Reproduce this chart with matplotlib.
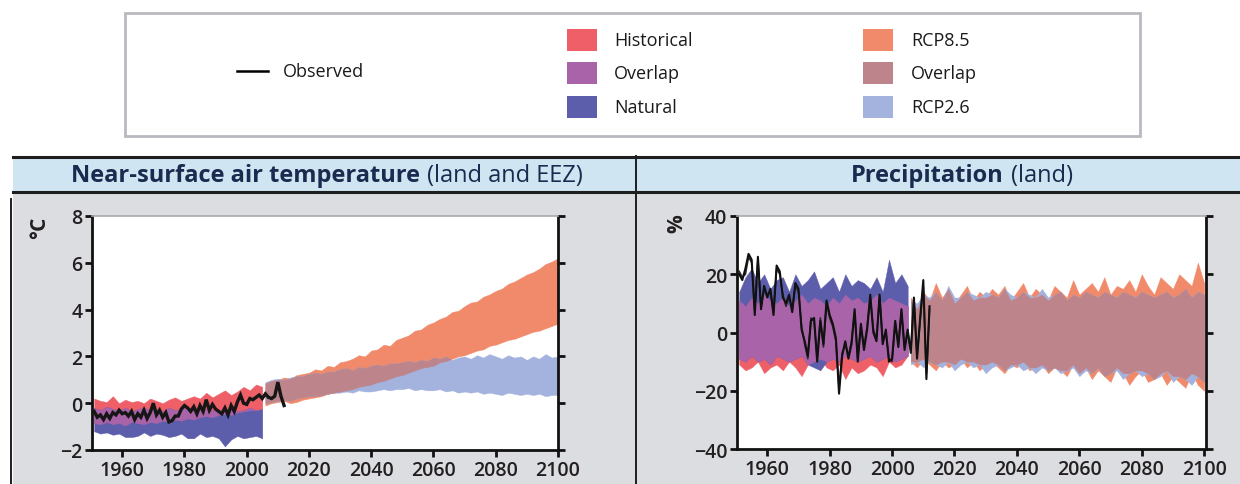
import numpy as np
import matplotlib
matplotlib.use('Agg')
import matplotlib.pyplot as plt
from matplotlib.patches import Rectangle
from matplotlib.lines import Line2D

plt.rcParams['font.family'] = ['Open Sans', 'DejaVu Sans']

# ---------------- data ----------------
hist_years = np.arange(1951, 2006, 2)      # model ranges, historical / natural
proj_years = np.arange(2006, 2101, 2)      # model ranges, RCP scenarios
obs_years = np.arange(1951, 2013)          # observations

# Near-surface air temperature (deg C)
t_hist_hi = [0.2, 0.1, 0.05, 0.3, 0.0, 0.15, 0.05, 0.1, 0.0, 0.2, 0.1, 0.0, 0.15, 0.25,
             0.1, 0.2, 0.3, 0.2, 0.45, 0.25, 0.4, 0.55, 0.35, 0.5, 0.7, 0.55, 0.8, 0.7]
t_hist_lo = [-0.85, -0.9, -0.8, -0.9, -0.85, -0.95, -0.8, -0.85, -0.9, -0.8, -0.85, -0.75, -0.8, -0.7,
             -0.75, -0.65, -0.7, -0.6, -0.55, -0.6, -0.5, -0.45, -0.5, -0.4, -0.35, -0.3, -0.3, -0.25]
t_nat_hi = [-0.2, -0.3, -0.15, -0.25, -0.3, -0.2, -0.35, -0.25, -0.2, -0.3, -0.25, -0.35, -0.2, -0.3,
            -0.25, -0.2, -0.3, -0.35, -0.25, -0.3, -0.4, -0.3, -0.25, -0.35, -0.3, -0.2, -0.3, -0.25]
t_nat_lo = [-1.2, -1.3, -1.25, -1.35, -1.3, -1.45, -1.45, -1.4, -1.25, -1.4, -1.3, -1.35, -1.45, -1.4,
            -1.3, -1.5, -1.5, -1.3, -1.45, -1.4, -1.5, -1.85, -1.55, -1.4, -1.5, -1.45, -1.4, -1.5]
t_r85_hi = [0.85, 0.95, 1.0, 1.1, 1.05, 1.2, 1.25, 1.3, 1.45, 1.4, 1.6, 1.55, 1.75, 1.8, 1.9, 2.05,
            2.0, 2.25, 2.3, 2.5, 2.45, 2.7, 2.8, 2.9, 3.1, 3.15, 3.35, 3.45, 3.6, 3.7, 3.9, 3.95,
            4.15, 4.3, 4.35, 4.55, 4.65, 4.8, 4.9, 5.1, 5.2, 5.35, 5.5, 5.6, 5.75, 5.95, 6.05, 6.2]
t_r85_lo = [-0.1, 0.0, 0.05, 0.1, 0.0, 0.05, 0.15, 0.2, 0.25, 0.3, 0.4, 0.45, 0.5, 0.55, 0.6, 0.7,
            0.75, 0.8, 0.9, 0.95, 1.05, 1.15, 1.2, 1.3, 1.4, 1.5, 1.55, 1.6, 1.75, 1.8, 1.9, 2.0,
            2.05, 2.15, 2.25, 2.3, 2.45, 2.5, 2.6, 2.7, 2.75, 2.85, 2.95, 3.05, 3.1, 3.2, 3.3, 3.4]
t_r26_hi = [0.9, 1.0, 1.05, 1.0, 1.1, 1.15, 1.15, 1.25, 1.3, 1.25, 1.35, 1.35, 1.45, 1.5, 1.4, 1.55,
            1.5, 1.6, 1.65, 1.6, 1.7, 1.7, 1.75, 1.8, 1.75, 1.85, 1.8, 1.95, 1.9, 2.0, 1.85, 1.95,
            2.0, 1.9, 2.05, 1.95, 2.1, 2.0, 1.9, 2.05, 1.95, 2.0, 1.85, 2.0, 1.9, 2.1, 1.95, 2.0]
t_r26_lo = [0.0, 0.05, 0.1, 0.15, 0.1, 0.2, 0.25, 0.3, 0.3, 0.35, 0.4, 0.45, 0.45, 0.5, 0.45, 0.55,
            0.5, 0.5, 0.55, 0.6, 0.55, 0.6, 0.6, 0.65, 0.55, 0.6, 0.55, 0.55, 0.6, 0.5, 0.55, 0.45,
            0.5, 0.45, 0.5, 0.4, 0.45, 0.4, 0.35, 0.45, 0.4, 0.35, 0.4, 0.35, 0.4, 0.3, 0.35, 0.35]
t_obs = [-0.35, -0.6, -0.5, -0.7, -0.45, -0.65, -0.4, -0.5, -0.3, -0.45, -0.4, -0.55, -0.35, -0.7,
         -0.45, -0.6, -0.3, -0.65, -0.4, 0.0, -0.5, -0.3, -0.6, -0.4, -0.8, -0.75, -0.55, -0.55,
         -0.25, -0.1, -0.2, -0.35, -0.15, -0.45, -0.1, -0.35, 0.15, -0.3, -0.05, -0.25, -0.35, -0.45,
         -0.2, -0.5, -0.1, -0.35, 0.05, 0.35, 0.0, -0.05, 0.2, 0.15, 0.25, 0.35, 0.2, 0.4, 0.25, 0.2,
         0.3, 0.9, 0.3, -0.1]

# Precipitation (%)
p_hist_hi = [11, 9, 12, 10, 13, 11, 10, 12, 9, 11, 13, 10, 12, 11, 9, 12, 10, 13, 11, 12, 10, 11,
             13, 10, 12, 11, 10, 9]
p_hist_lo = [-11, -13, -12, -10, -14, -12, -11, -13, -10, -12, -15, -11, -10, -9, -12, -13, -11, -16,
             -12, -14, -13, -11, -12, -15, -10, -12, -11, -8]
p_nat_hi = [14, 19, 22, 17, 20, 15, 18, 19, 14, 20, 16, 18, 21, 15, 17, 19, 14, 20, 16, 18, 17, 15,
            19, 14, 25, 17, 20, 16]
p_nat_lo = [-9, -10, -8, -10, -9, -11, -8, -9, -10, -9, -8, -11, -12, -13, -10, -9, -10, -8, -9, -10,
            -9, -8, -10, -9, -8, -10, -9, -8]
p_r85_hi = [12, 8, 14, 11, 17, 12, 15, 10, 13, 16, 11, 14, 12, 15, 13, 16, 11, 14, 17, 12, 15, 13,
            11, 16, 14, 12, 18, 13, 15, 17, 14, 19, 13, 16, 15, 18, 14, 20, 16, 13, 19, 17, 15, 20,
            18, 16, 24, 17]
p_r85_lo = [-10, -12, -9, -11, -13, -10, -12, -11, -9, -12, -10, -13, -11, -10, -12, -14, -11, -12,
            -10, -13, -12, -11, -14, -12, -13, -15, -11, -14, -12, -16, -13, -15, -17, -12, -14, -18,
            -15, -13, -17, -16, -14, -18, -15, -17, -19, -14, -18, -20]
p_r26_hi = [11, 10, 13, 12, 14, 11, 16, 12, 12, 14, 13, 12, 14, 13, 12, 15, 13, 12, 14, 13, 12, 15,
            12, 13, 14, 11, 13, 12, 14, 13, 12, 14, 13, 12, 14, 13, 12, 14, 13, 12, 13, 14, 12, 13,
            15, 12, 14, 13]
p_r26_lo = [-11, -10, -12, -10, -11, -12, -10, -13, -11, -10, -12, -11, -14, -12, -11, -13, -12, -11,
            -13, -12, -14, -12, -13, -12, -14, -13, -12, -15, -13, -14, -12, -15, -14, -13, -16, -14,
            -13, -15, -14, -16, -15, -13, -17, -15, -16, -18, -15, -17]
p_obs_a = [20, 18, 22, 27, 25, 6, 26, 8, 16, 12, 15, 6, 23, 21, 12, 10, 13, 7, 17, 15, 1, -3, -8, 4,
           5, -10, 4, -4, 11, 6, 3, -2, -21, -8, -3, -9, -4, 8, -10, 3, -6, 1, 13, 0, -3, 13, -4, 1,
           -10, -9, 4, -5, 8, -6, 1, -7, 12, -9, 5, 18, -16, 9]
p_obs_b = [21, 19, 20, 26, 24, 8, 25, 9, 15, 13, 14, 7, 22, 20, 13, 9, 12, 8, 16, 14, 2, -4, -9, 5,
           4, -9, 5, -5, 10, 5, 2, -3, -19, -7, -4, -8, -3, 7, -9, 2, -5, 2, 12, 1, -2, 12, -3, 0,
           -9, -10, 3, -4, 7, -5, 0, -6, 11, -8, 4, 16, -14, 8]

panel_titles = [("Near-surface air temperature", "(land and EEZ)"), ("Precipitation", "(land)")]
units = ["°C", "%"]
t_ticks = [-2, 0, 2, 4, 6, 8]
p_ticks = [-40, -20, 0, 20, 40]
x_ticks = [1960, 1980, 2000, 2020, 2040, 2060, 2080, 2100]

colors = {
    "Historical": "#ee5f68",
    "Overlap_hn": "#a963a8",
    "Natural": "#5d5eab",
    "RCP8.5": "#f08a6a",
    "Overlap_rcp": "#bd858b",
    "RCP2.6": "#a4b2de",
}

# ---------------- figure ----------------
W, H = 1240, 485
fig = plt.figure(figsize=(W / 100, H / 100), dpi=100)
fig.patch.set_facecolor('white')


def fx(px):
    return px / W


def fy(py):
    return 1 - py / H


dark = '#1e1e1e'
fig.patches.append(Rectangle((fx(13), 0), fx(W - 13), fy(194), transform=fig.transFigure,
                             facecolor='#dcdde1', edgecolor='none', zorder=-5))
fig.patches.append(Rectangle((fx(13), fy(193)), fx(W - 13), (193 - 157) / H, transform=fig.transFigure,
                             facecolor='#cfe5f1', edgecolor='none', zorder=-5))
fig.add_artist(Line2D([fx(13), 1], [fy(157.5)] * 2, color=dark, lw=2.2, zorder=-4))
fig.add_artist(Line2D([fx(13), 1], [fy(193)] * 2, color=dark, lw=2.2, zorder=-4))
fig.add_artist(Line2D([fx(636)] * 2, [0, fy(157)], color=dark, lw=1.4, zorder=-4))
fig.add_artist(Line2D([fx(11)] * 2, [0, fy(200)], color=dark, lw=1.4, zorder=-4))

# legend box
fig.patches.append(Rectangle((fx(125), fy(137)), fx(1015), (137 - 14) / H, transform=fig.transFigure,
                             facecolor='white', edgecolor='#b9b9c0', lw=2.0, zorder=-5))
leg_fs = 13
fig.add_artist(Line2D([fx(237), fx(268)], [fy(72)] * 2, color='black', lw=1.8))
fig.text(fx(283), fy(72), "Observed", fontsize=leg_fs, va='center', ha='left', color='#1a1a1a')
legend_cols = [
    (567, 614, [("Historical", colors["Historical"]), ("Overlap", colors["Overlap_hn"]),
                ("Natural", colors["Natural"])]),
    (863, 911, [("RCP8.5", colors["RCP8.5"]), ("Overlap", colors["Overlap_rcp"]),
                ("RCP2.6", colors["RCP2.6"])]),
]
row_y = [41, 74, 108]
for px, tx, items in legend_cols:
    for (lab, col), yy in zip(items, row_y):
        fig.patches.append(Rectangle((fx(px), fy(yy + 11)), fx(30), 22 / H, transform=fig.transFigure,
                                     facecolor=col, edgecolor='none', zorder=2))
        fig.text(fx(tx), fy(yy), lab, fontsize=leg_fs, va='center', ha='left', color='#1a1a1a')

# headers
renderer = fig.canvas.get_renderer()
title_col = '#1b2a4f'
for (bold, normal), cx in zip(panel_titles, [327, 962]):
    t1 = fig.text(0, fy(176), bold, fontsize=17, fontweight='bold', color=title_col, va='center')
    t2 = fig.text(0, fy(176), normal, fontsize=17, color=title_col, va='center')
    w1 = t1.get_window_extent(renderer).width
    w2 = t2.get_window_extent(renderer).width
    gap = 7
    start = cx - (w1 + gap + w2) / 2
    t1.set_x(fx(start))
    t2.set_x(fx(start + w1 + gap))

# axes
ax1 = fig.add_axes([fx(92), fy(451), fx(466), (451 - 217) / H])
ax2 = fig.add_axes([fx(737), fy(450), fx(469), (450 - 217) / H])


def bands(ax, x, a_lo, a_hi, b_lo, b_hi, ca, cb, cab):
    a_lo, a_hi, b_lo, b_hi = map(np.asarray, (a_lo, a_hi, b_lo, b_hi))
    ax.fill_between(x, a_lo, a_hi, color=ca, lw=0.3, edgecolor=ca, zorder=1)
    ax.fill_between(x, b_lo, b_hi, color=cb, lw=0.3, edgecolor=cb, zorder=1)
    lo = np.maximum(a_lo, b_lo)
    hi = np.minimum(a_hi, b_hi)
    ax.fill_between(x, lo, hi, where=hi > lo, interpolate=True, color=cab, lw=0.3,
                    edgecolor=cab, zorder=2)


bands(ax1, hist_years, t_hist_lo, t_hist_hi, t_nat_lo, t_nat_hi,
      colors["Historical"], colors["Natural"], colors["Overlap_hn"])
bands(ax1, proj_years, t_r85_lo, t_r85_hi, t_r26_lo, t_r26_hi,
      colors["RCP8.5"], colors["RCP2.6"], colors["Overlap_rcp"])
ax1.plot(obs_years, t_obs, color='#161616', lw=2.4, zorder=5, solid_joinstyle='miter')

bands(ax2, hist_years, p_hist_lo, p_hist_hi, p_nat_lo, p_nat_hi,
      colors["Historical"], colors["Natural"], colors["Overlap_hn"])
bands(ax2, proj_years, p_r85_lo, p_r85_hi, p_r26_lo, p_r26_hi,
      colors["RCP8.5"], colors["RCP2.6"], colors["Overlap_rcp"])
ax2.plot(obs_years, p_obs_b, color='#2a2a2a', lw=1.2, zorder=5)
ax2.plot(obs_years, p_obs_a, color='#111111', lw=1.5, zorder=6)

for ax, yt, ylim, xlim in [(ax1, t_ticks, (-2, 8), (1950.3, 2100)),
                           (ax2, p_ticks, (-40, 40), (1950.3, 2100.6))]:
    ax.set_xlim(*xlim)
    ax.set_ylim(*ylim)
    ax.set_yticks(yt)
    ax.set_xticks(x_ticks)
    ax.set_yticklabels([str(v).replace('-', '\u2212') for v in yt])
    ax.set_facecolor('white')
    for s in ['left', 'bottom', 'right']:
        ax.spines[s].set_color('#111111')
        ax.spines[s].set_linewidth(2.0)
    ax.spines['top'].set_color('#a8a8ae')
    ax.spines['top'].set_linewidth(1.2)
    ax.tick_params(axis='both', direction='out', length=5, width=2.0, color='#111111',
                   labelsize=14, labelcolor='#231f20', pad=2)
    ax.tick_params(axis='y', right=True, labelright=False)
    ax.tick_params(axis='x', top=False)
    for lab in ax.get_xticklabels() + ax.get_yticklabels():
        lab.set_fontweight('semibold')

fig.text(fx(40), fy(228), units[0], rotation=90, fontsize=15, fontweight='bold',
         ha='center', va='center', color='#231f20')
fig.text(fx(677), fy(224), units[1], rotation=90, fontsize=15, fontweight='bold',
         ha='center', va='center', color='#231f20')

fig.savefig('out.png', dpi=100)
